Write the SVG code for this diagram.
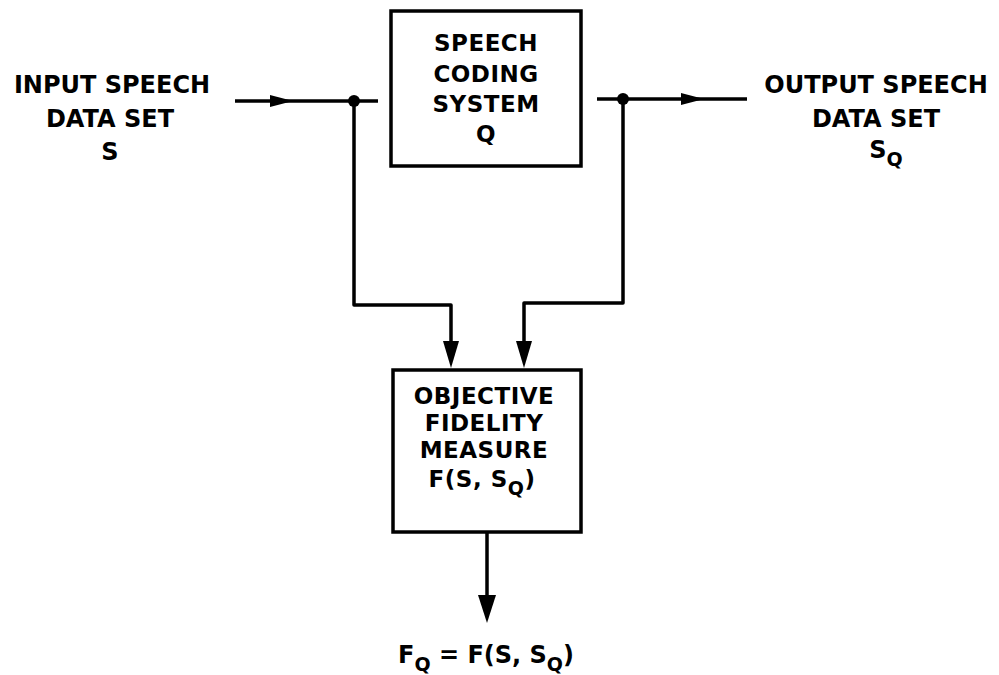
<svg xmlns="http://www.w3.org/2000/svg" width="999" height="675" viewBox="0 0 999 675">
<style>
.t{font-family:"DejaVu Sans","Liberation Sans",sans-serif;font-weight:bold;fill:#000;text-anchor:middle}
.lbl{font-size:24px}
.bx{font-size:23px;letter-spacing:0.5px}
.sub{font-size:19px}
.box{fill:#fff;stroke:#000;stroke-width:3.5}
.ln{fill:none;stroke:#000;stroke-width:3.5;stroke-linejoin:round}
.ah{fill:#000;stroke:none}
</style>
<rect width="999" height="675" fill="#fff"/>
<g id="input-label">
<text class="t lbl" x="112" y="93">INPUT SPEECH</text>
<text class="t lbl" x="110" y="127">DATA SET</text>
<text class="t lbl" x="110" y="160">S</text>
</g>
<g id="output-label">
<text class="t lbl" x="876" y="93">OUTPUT SPEECH</text>
<text class="t lbl" x="876" y="127">DATA SET</text>
<text class="t lbl" x="886" y="158">S<tspan class="sub" dy="8">Q</tspan></text>
</g>
<g id="coding-system">
<rect class="box" x="391" y="11" width="190" height="155"/>
<text class="t bx" x="486" y="51">SPEECH</text>
<text class="t bx" x="486" y="82">CODING</text>
<text class="t bx" x="486" y="112">SYSTEM</text>
<text class="t bx" x="486" y="142">Q</text>
</g>
<g id="fidelity-measure">
<rect class="box" x="393" y="370" width="188" height="162"/>
<text class="t bx" x="484" y="404">OBJECTIVE</text>
<text class="t bx" x="484" y="431">FIDELITY</text>
<text class="t bx" x="484" y="458">MEASURE</text>
<text class="t bx" x="482" y="487">F(S, S<tspan class="sub" dy="8">Q</tspan><tspan dy="-8">)</tspan></text>
</g>
<g id="result-label">
<text class="t lbl" x="486" y="663">F<tspan class="sub" dy="8">Q</tspan><tspan dy="-8"> = F(S, S</tspan><tspan class="sub" dy="8">Q</tspan><tspan dy="-8">)</tspan></text>
</g>
<g id="connectors">
<path class="ln" d="M235 101 H378"/>
<polygon class="ah" points="270,95 293,101 270,107"/>
<circle cx="354" cy="101" r="6"/>
<path class="ln" d="M354 101 V305 H451 V345"/>
<polygon class="ah" points="443,341 451,368 459,341"/>
<path class="ln" d="M597 99 H747"/>
<polygon class="ah" points="681,93 704,99 681,105"/>
<circle cx="623" cy="99" r="6"/>
<path class="ln" d="M623 99 V303 H524 V345"/>
<polygon class="ah" points="516,341 524,368 532,341"/>
<path class="ln" d="M487 532 V600"/>
<polygon class="ah" points="478,595 487,623 496,595"/>
</g>
</svg>
